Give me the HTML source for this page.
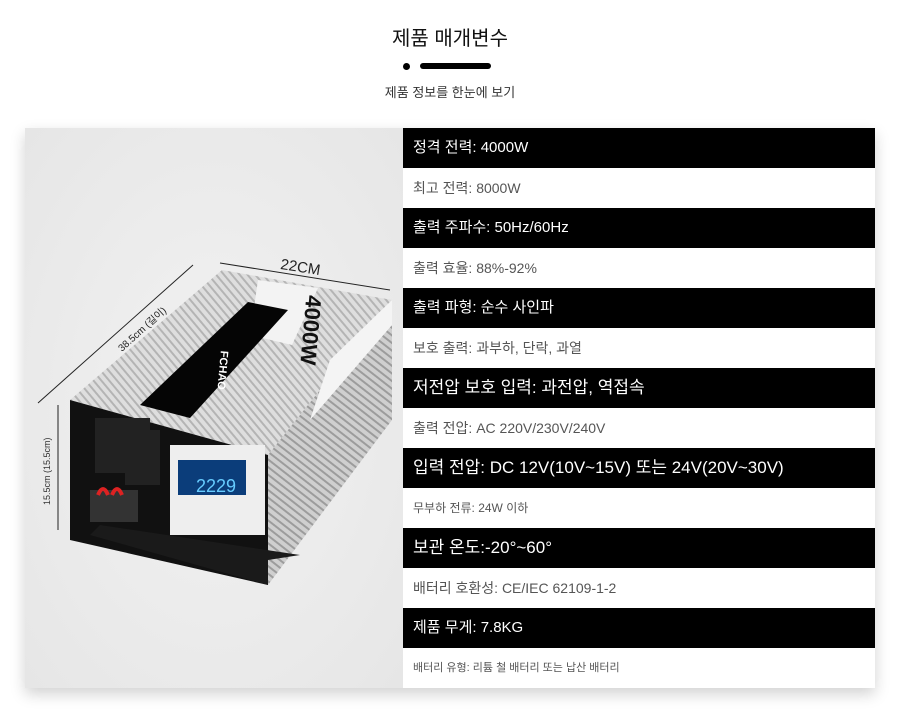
<!DOCTYPE html>
<html><head><meta charset="utf-8"><style>
body{margin:0;width:900px;height:715px;background:#fff;font-family:"Liberation Sans","Noto Sans CJK KR",sans-serif;position:relative;overflow:hidden}
.t{position:absolute;left:0;width:900px;text-align:center}
.card{position:absolute;left:25px;top:128px;width:850px;height:560px;box-shadow:0 6px 14px rgba(0,0,0,.18);background:#ebebeb}
.left{position:absolute;left:0;top:0;width:378px;height:560px;background:radial-gradient(ellipse at 50% 50%,#f2f2f2,#e6e6e6)}
.tb{position:absolute;left:378px;top:0;width:472px}
.r{height:40px;line-height:40px;padding-left:10px;font-size:14px;color:#555;background:#fff;white-space:nowrap}
.r.d{background:#000;color:#fff;font-size:15px}
.s{font-size:12px!important}
.b{font-size:17px!important}
</style></head><body>
<div class="t" style="top:22px;font-size:20px;color:#111">제품 매개변수</div>
<div style="position:absolute;left:403px;top:63px;width:7px;height:7px;border-radius:50%;background:#000"></div>
<div style="position:absolute;left:420px;top:63px;width:71px;height:6px;border-radius:3px;background:#000"></div>
<div class="t" style="top:82px;font-size:13px;color:#333">제품 정보를 한눈에 보기</div>
<div class="card">
<div class="left">
<svg width="378" height="560" viewBox="25 128 378 560" style="position:absolute;left:0;top:0">
<defs>
<pattern id="st" width="6" height="6" patternUnits="userSpaceOnUse" patternTransform="rotate(-40)">
<rect width="6" height="6" fill="#dedede"/><rect width="2" height="6" fill="#b4b4b4"/></pattern>
<pattern id="st2" width="6" height="6" patternUnits="userSpaceOnUse" patternTransform="rotate(-52)">
<rect width="6" height="6" fill="#cfcfcf"/><rect width="2" height="6" fill="#9c9c9c"/></pattern>
</defs>
<g stroke="#222" stroke-width="1" fill="none">
<line x1="220" y1="263" x2="390" y2="290"/><line x1="38" y1="403" x2="193" y2="265"/><line x1="58" y1="405" x2="58" y2="530"/>
</g>
<text x="280" y="272" font-size="15" fill="#222" transform="rotate(9 300 270)">22CM</text>
<text x="100" y="345" font-size="10" fill="#222" transform="rotate(-42 120 320)">38.5cm (길이)</text>
<text x="50" y="505" font-size="9" fill="#333" transform="rotate(-90 50 505)">15.5cm (15.5cm)</text>
<polygon points="70,400 222,270 392,300 268,455" fill="url(#st)"/>
<polygon points="268,455 392,300 392,420 268,585" fill="url(#st2)"/>
<polygon points="330,360 392,300 392,325 310,420" fill="#f4f4f4"/>
<polygon points="268,455 70,400 70,540 268,585" fill="#111"/>
<polygon points="90,535 268,585 268,560 300,555 100,525" fill="#1a1a1a"/>
<polygon points="258,280 318,288 292,345 250,335" fill="#f3f3f3"/>
<polygon points="140,405 248,302 288,310 190,418" fill="#050505"/>
<text x="268" y="290" font-size="22" font-weight="bold" fill="#111" transform="rotate(95 285 310)">4000W</text>
<text x="205" y="355" font-size="11" font-weight="bold" fill="#fff" transform="rotate(95 215 360)">FCHAO</text>
<rect x="95" y="418" width="55" height="55" fill="#222"/><rect x="125" y="430" width="35" height="55" fill="#222"/>
<rect x="170" y="445" width="95" height="90" fill="#eee"/>
<rect x="178" y="460" width="68" height="35" fill="#0b3d7a"/>
<text x="196" y="492" font-size="18" fill="#6cf">2229</text>
<rect x="90" y="490" width="48" height="32" fill="#333"/>
<path d="M98 495 q5 -12 10 0 M112 495 q5 -12 10 0" stroke="#d22" stroke-width="4" fill="none"/>
</svg>
</div>
<div class="tb">
<div class="r d">정격 전력: 4000W</div>
<div class="r">최고 전력: 8000W</div>
<div class="r d">출력 주파수: 50Hz/60Hz</div>
<div class="r">출력 효율: 88%-92%</div>
<div class="r d">출력 파형: 순수 사인파</div>
<div class="r">보호 출력: 과부하, 단락, 과열</div>
<div class="r d b">저전압 보호 입력: 과전압, 역접속</div>
<div class="r">출력 전압: AC 220V/230V/240V</div>
<div class="r d b">입력 전압: DC 12V(10V~15V) 또는 24V(20V~30V)</div>
<div class="r s">무부하 전류: 24W 이하</div>
<div class="r d b">보관 온도:-20°~60°</div>
<div class="r">배터리 호환성: CE/IEC 62109-1-2</div>
<div class="r d">제품 무게: 7.8KG</div>
<div class="r s" style="font-size:11px!important">배터리 유형: 리튬 철 배터리 또는 납산 배터리</div>
</div>
</div>
</body></html>
